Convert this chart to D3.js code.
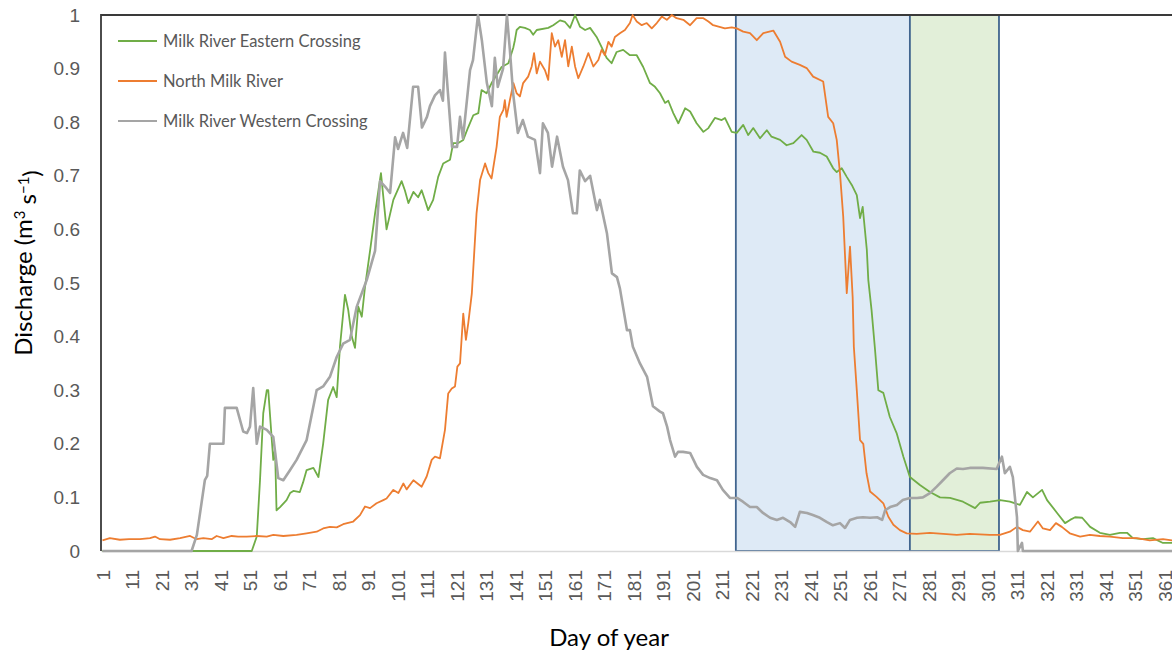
<!DOCTYPE html>
<html>
<head>
<meta charset="utf-8">
<script src="https://cdn.jsdelivr.net/npm/d3@7"></script>
<style>
  body { margin: 0; background: #fff; }
  svg { display: block; font-family: Lato, "Open Sans", sans-serif; }
</style>
</head>
<body>
<div id="chart"></div>
<script>
// daily discharge readings, [day of year, value]
var easternCrossing = [
  [1,0],[51.6,0],[53.3,0.027],[54.4,0.132],[55.5,0.257],[56.7,0.30],[57.2,0.30],[58.4,0.207],[58.9,0.17],[59.5,0.19],
  [60,0.076],[61.2,0.082],[63.4,0.095],[64.6,0.108],[65.7,0.112],[67.9,0.11],[69,0.128],[70.2,0.151],[72.5,0.155],[74.2,0.138],
  [75.8,0.2],[77.5,0.282],[79.2,0.306],[80.4,0.287],[81.5,0.381],[83.2,0.478],[84.3,0.45],[85.5,0.40],[86.6,0.379],[87.7,0.456],
  [88.9,0.437],[90,0.493],[91.7,0.56],[93.4,0.63],[95.4,0.705],[97.3,0.60],[99.6,0.655],[102.4,0.69],[103.5,0.673],[104.7,0.649],
  [106.4,0.67],[108,0.66],[109.2,0.673],[110.3,0.655],[111.4,0.636],[113.1,0.655],[114.8,0.698],[116.5,0.723],[118.8,0.73],[119.9,0.761],
  [121.6,0.761],[123.3,0.767],[125,0.791],[126.7,0.813],[128.4,0.817],[129.5,0.86],[131.2,0.854],[132.9,0.873],[134.6,0.888],[136.3,0.903],
  [138.6,0.91],[140.3,0.94],[140.8,0.953],[141.4,0.972],[142.5,0.978],[144.2,0.976],[145.9,0.972],[147,0.963],[148.2,0.972],[152.1,0.976],
  [153.8,0.981],[156.1,0.99],[157.8,0.987],[159.5,0.976],[161.2,1.0],[162.9,0.978],[164.6,0.972],[166.3,0.976],[168.5,0.959],[170.2,0.94],
  [171.9,0.92],[173.6,0.91],[175.3,0.931],[177.5,0.935],[179.8,0.925],[182.1,0.925],[184.3,0.903],[186.6,0.873],[188.3,0.866],[190,0.854],
  [191.7,0.836],[192.8,0.84],[194.5,0.817],[196.2,0.798],[198.5,0.826],[200.2,0.82],[202.4,0.798],[204.7,0.782],[206.4,0.789],[208.6,0.808],
  [210.9,0.804],[212,0.808],[214.3,0.782],[216,0.78],[218.2,0.795],[219.9,0.776],[221.6,0.789],[223.9,0.77],[226.2,0.785],[227.8,0.773],
  [230.7,0.767],[232.9,0.757],[235.2,0.761],[238,0.776],[239.7,0.767],[242,0.745],[244.2,0.743],[246.5,0.736],[248.7,0.714],[249.9,0.707],
  [251.6,0.714],[253.3,0.698],[255,0.683],[256.7,0.664],[257.8,0.621],[258.7,0.642],[260.1,0.562],[260.6,0.506],[261.7,0.45],[262.8,0.381],
  [264,0.30],[265.7,0.295],[267.9,0.25],[270.2,0.22],[272.5,0.176],[274.7,0.138],[278.1,0.123],[281.5,0.11],[284.9,0.10],[288.3,0.099],
  [292.7,0.092],[296.8,0.08],[298.5,0.09],[301.9,0.092],[305.3,0.095],[308.6,0.092],[312,0.086],[314.4,0.11],[316.4,0.10],[319.5,0.114],
  [321.2,0.095],[324.6,0.071],[327.3,0.052],[329,0.058],[330.7,0.063],[333.1,0.062],[335.8,0.045],[339.1,0.034],[342.5,0.03],[345.9,0.034],
  [348.3,0.034],[350.3,0.024],[353.7,0.022],[357.1,0.024],[360.5,0.015],[363.5,0.015],[365,0.015]
];

var northMilk = [
  [1,0.02],[3.5,0.024],[6.9,0.021],[10,0.022],[13.7,0.022],[17.1,0.024],[18.8,0.027],[20.5,0.022],[23.9,0.021],[27.3,0.024],
  [30.7,0.028],[32.9,0.022],[35.2,0.024],[38,0.022],[39.7,0.028],[42,0.024],[44.8,0.028],[47,0.027],[49.9,0.027],[53.3,0.028],
  [56.7,0.027],[58.9,0.03],[62.3,0.028],[66.8,0.03],[70.2,0.033],[73.6,0.036],[75.8,0.042],[78.1,0.045],[80.4,0.044],[82.6,0.05],
  [86,0.055],[88.3,0.067],[90,0.083],[91.7,0.08],[93.9,0.089],[96.2,0.095],[97.3,0.098],[99.6,0.114],[101.3,0.108],[103,0.126],
  [104.1,0.115],[106.4,0.132],[109.2,0.12],[110.9,0.139],[112.6,0.17],[113.7,0.176],[115.4,0.173],[117.1,0.226],[118.2,0.294],[119.4,0.303],
  [120.5,0.307],[121.3,0.344],[122.2,0.35],[123.3,0.443],[124.2,0.394],[125,0.425],[126.2,0.48],[127.8,0.63],[129,0.692],[130.7,0.723],
  [131.8,0.705],[132.9,0.695],[134.6,0.754],[135.7,0.81],[136.9,0.823],[137.4,0.841],[138,0.81],[139.1,0.841],[140.3,0.873],[141.4,0.854],
  [142.5,0.848],[143.6,0.873],[145.3,0.885],[146.5,0.904],[147.3,0.929],[148.2,0.891],[149.3,0.913],[151,0.897],[152.1,0.879],[153.3,0.966],
  [154.4,0.941],[155.5,0.953],[156.7,0.922],[157.8,0.953],[158.9,0.904],[160.1,0.941],[161.2,0.904],[162.3,0.882],[164,0.904],[165.7,0.929],
  [167.4,0.904],[169.1,0.916],[170.2,0.935],[171.3,0.925],[172.5,0.95],[173.6,0.941],[174.7,0.959],[176.4,0.966],[178.1,0.972],[179.8,0.985],
  [180.7,1.0],[182.1,0.988],[183.8,0.981],[185.5,0.985],[187.2,0.975],[188.9,0.985],[190.6,0.997],[192.3,0.991],[194,1.0],[195.6,0.994],
  [197.9,0.991],[200.2,0.981],[202.4,0.994],[204.7,0.994],[206.4,0.988],[208,0.981],[212,0.975],[214.3,0.977],[216,0.975],[218.2,0.969],
  [220.5,0.966],[222.8,0.953],[225,0.966],[228.4,0.971],[230.7,0.95],[232.4,0.922],[234.6,0.913],[237.4,0.907],[239.7,0.901],[241.9,0.885],
  [245.3,0.876],[247,0.81],[248.7,0.798],[249.9,0.767],[251,0.705],[252.1,0.624],[253.3,0.481],[254.4,0.568],[255.3,0.474],[255.7,0.381],
  [256.7,0.30],[257.8,0.207],[258.9,0.20],[260,0.145],[261.2,0.111],[263.4,0.101],[265.7,0.089],[267.4,0.064],[269.1,0.049],[271.3,0.039],
  [273.6,0.033],[277,0.032],[281.5,0.034],[286,0.032],[290.6,0.03],[295,0.032],[301.8,0.03],[305.2,0.03],[308.6,0.036],[311,0.045],
  [313,0.039],[315.4,0.036],[318.1,0.055],[319.8,0.042],[322.2,0.039],[324.2,0.052],[326.2,0.045],[328.9,0.033],[332.4,0.027],[335.7,0.03],
  [339.1,0.028],[342.5,0.027],[346.9,0.024],[351.6,0.024],[356,0.02],[360.5,0.022],[363.5,0.02],[365,0.02]
];

var westernCrossing = [
  [1,0],[31.2,0],[33,0.03],[35.7,0.132],[36.5,0.14],[37.4,0.2],[42,0.2],[42.5,0.267],[46.5,0.267],[48.7,0.223],
  [50,0.22],[51,0.232],[52.1,0.304],[53.3,0.2],[54.4,0.232],[56.7,0.226],[58.9,0.213],[60.6,0.136],[62.3,0.132],[64.6,0.151],
  [66.8,0.17],[70.2,0.207],[73.6,0.30],[75.8,0.307],[78.1,0.325],[80.4,0.362],[82.6,0.387],[84.9,0.394],[87.2,0.456],[90.6,0.506],
  [93.4,0.56],[95.1,0.69],[96.8,0.68],[98.5,0.668],[100.2,0.772],[101.2,0.75],[102.9,0.78],[104.3,0.752],[106.3,0.866],[108,0.866],
  [109.3,0.79],[111,0.81],[112,0.83],[113.7,0.85],[115.4,0.86],[116.4,0.84],[117.1,0.93],[118.1,0.855],[119.5,0.754],[121.2,0.754],
  [122.2,0.81],[123.2,0.77],[125.6,0.897],[126.6,0.916],[128.3,1.0],[129.6,0.953],[131.3,0.873],[133,0.83],[134,0.92],[135,0.866],
  [136.8,0.90],[138.1,1.0],[139.1,0.935],[140.2,0.854],[141.8,0.78],[143.5,0.804],[145.2,0.773],[147.6,0.767],[149.3,0.705],[150.3,0.798],
  [152,0.78],[153.4,0.717],[155.1,0.773],[157.1,0.717],[158.8,0.692],[160.5,0.63],[161.8,0.63],[162.8,0.71],[164.6,0.69],[166.3,0.70],
  [168.6,0.636],[169.6,0.655],[172,0.593],[173.7,0.518],[175.4,0.511],[176.4,0.49],[178.8,0.412],[179.8,0.412],[180.8,0.381],[183.2,0.35],
  [185.6,0.325],[187.6,0.27],[190,0.26],[191,0.257],[192.4,0.232],[193.4,0.207],[195.1,0.176],[196.1,0.185],[197.8,0.185],[200.2,0.183],
  [202.5,0.157],[204.6,0.142],[207,0.136],[209.3,0.132],[211.3,0.114],[213.7,0.099],[216.1,0.099],[218.1,0.092],[220.5,0.082],[222.8,0.082],
  [224.9,0.071],[227.3,0.062],[229.6,0.058],[231.7,0.062],[234.1,0.054],[235.8,0.045],[237.4,0.073],[239.8,0.071],[241.8,0.067],[244.2,0.062],
  [246.6,0.054],[248.6,0.048],[251,0.052],[252.7,0.043],[254.4,0.058],[256.8,0.062],[258.8,0.063],[261.2,0.062],[263.6,0.063],[265.3,0.058],
  [266.3,0.076],[268,0.082],[270.3,0.086],[272.3,0.095],[274.7,0.099],[277.1,0.099],[279.1,0.10],[281.5,0.108],[283.8,0.12],[285.9,0.132],
  [288.2,0.145],[290.6,0.154],[292.7,0.153],[295,0.155],[299.4,0.155],[304.1,0.153],[305.9,0.176],[306.9,0.145],[308.6,0.157],[309.6,0.138],
  [311,0.063],[311.3,0],[312.7,0.015],[313,0],[365,0]
];

var seriesNames = ['Milk River Eastern Crossing', 'North Milk River', 'Milk River Western Crossing'];
var seriesColors = ['#70ad47', '#ed7d31', '#a5a5a5'];
var seriesWidths = [1.8, 1.8, 2.6];

// shaded periods (day of year)
var periodStart = [215.7, 274.7];
var periodEnd = [274.7, 304.9];
var periodFills = ['#deeaf6', '#e2efd9'];

var xTicks = d3.range(1, 362, 10);
var yTicks = [0, 0.1, 0.2, 0.3, 0.4, 0.5, 0.6, 0.7, 0.8, 0.9, 1];

(function() {
  var width = 1172, height = 653;
  var plotLeft = 101, plotTop = 15, plotBottom = 551;
  var dayWidth = 2.95;

  var svg = d3.select('#chart').append('svg')
    .attr('width', width)
    .attr('height', height);

  var x = d3.scaleLinear().domain([0.5, 365.5]).range([plotLeft, plotLeft + 365 * dayWidth]);
  var y = d3.scaleLinear().domain([0, 1]).range([plotBottom, plotTop]);

  // shaded boxes
  svg.append('g').selectAll('rect')
    .data(periodStart)
    .enter().append('rect')
    .attr('x', d => x(d))
    .attr('y', y(1))
    .attr('width', (d, i) => x(periodEnd[i]) - x(d))
    .attr('height', y(0) - y(1))
    .attr('fill', (d, i) => periodFills[i])
    .attr('stroke', '#41658f')
    .attr('stroke-width', 1.8);

  // axes
  var yAxis = svg.append('g')
    .attr('transform', 'translate(' + plotLeft + ',0)')
    .call(d3.axisLeft(y).tickValues(yTicks).tickSize(0).tickPadding(21)
      .tickFormat(d => d === 0 ? '0' : d === 1 ? '1' : d.toFixed(1)));
  yAxis.select('.domain').remove();
  yAxis.selectAll('text')
    .attr('fill', '#595959')
    .style('font-size', '19px');

  var xAxis = svg.append('g')
    .attr('transform', 'translate(0,' + plotBottom + ')')
    .call(d3.axisBottom(x).tickValues(xTicks).tickSize(0));
  xAxis.select('.domain')
    .attr('stroke', '#d9d9d9')
    .attr('stroke-width', 1.5);
  xAxis.selectAll('text')
    .attr('transform', 'rotate(-90)')
    .attr('x', -19)
    .attr('y', 0)
    .attr('dy', '0.36em')
    .attr('fill', '#595959')
    .style('text-anchor', 'end')
    .style('font-size', '19px');

  // plot border (top and left)
  svg.append('path')
    .attr('d', 'M' + plotLeft + ',' + plotBottom + 'V' + plotTop + 'H' + x(365.5))
    .attr('fill', 'none')
    .attr('stroke', '#3a3a3a')
    .attr('stroke-width', 1.8);

  var line = d3.line()
    .x(d => x(d[0]))
    .y(d => y(d[1]));

  var allSeries = [easternCrossing, northMilk, westernCrossing];
  svg.append('g').selectAll('path')
    .data(allSeries)
    .enter().append('path')
    .attr('d', line)
    .attr('fill', 'none')
    .attr('stroke', (d, i) => seriesColors[i])
    .attr('stroke-width', (d, i) => seriesWidths[i])
    .attr('stroke-linejoin', 'round');

  // legend
  var legend = svg.append('g')
    .selectAll('g')
    .data(seriesNames)
    .enter().append('g')
    .attr('transform', (d, i) => 'translate(118,' + (41 + i * 40) + ')');
  legend.append('line')
    .attr('x1', 0).attr('x2', 39)
    .attr('stroke', (d, i) => seriesColors[i])
    .attr('stroke-width', 2);
  legend.append('text')
    .attr('x', 45)
    .attr('dy', '0.35em')
    .attr('fill', '#595959')
    .style('font-size', '16.5px')
    .text(d => d);

  // axis titles
  svg.append('text')
    .attr('transform', 'translate(32,263) rotate(-90)')
    .attr('text-anchor', 'middle')
    .style('font-size', '24px')
    .attr('fill', '#000')
    .call(t => {
      t.append('tspan').text('Discharge (m');
      t.append('tspan').attr('dy', '-0.45em').style('font-size', '15px').text('3');
      t.append('tspan').attr('dy', '0.45em').text(' s');
      t.append('tspan').attr('dy', '-0.45em').style('font-size', '15px').text('\u22121');
      t.append('tspan').attr('dy', '0.45em').text(')');
    });

  svg.append('text')
    .attr('x', 609)
    .attr('y', 646)
    .attr('text-anchor', 'middle')
    .style('font-size', '24px')
    .attr('fill', '#000')
    .text('Day of year');
})();
</script>
</body>
</html>
